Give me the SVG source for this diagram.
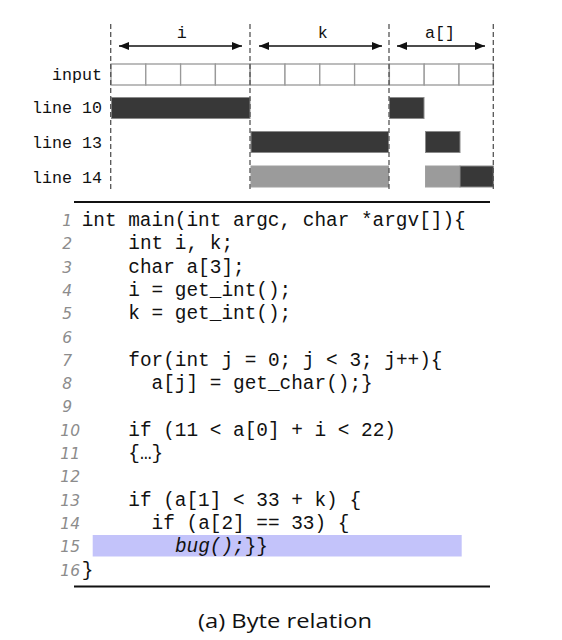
<svg xmlns="http://www.w3.org/2000/svg" width="562" height="640" viewBox="0 0 562 640">
<style>
.hdr{font-family:"Liberation Mono",monospace;font-size:16.7px;fill:#111}
.code{font-family:"Liberation Mono",monospace;font-size:19.4px;fill:#111}
.num{font-family:"DejaVu Sans","Liberation Sans",sans-serif;font-style:italic;font-size:15.5px;fill:#8c8c8c;text-anchor:end}
.dash{stroke:#555;stroke-width:1.3;stroke-dasharray:5,3}
.cell{fill:#fff;stroke:#999;stroke-width:1.3}
.dark{fill:#383838;stroke:#8a8a8a;stroke-width:1}
.light{fill:#9b9b9b;stroke:#a0a0a0;stroke-width:1}
.arr{stroke:#111;stroke-width:1.4;marker-start:url(#ah);marker-end:url(#ah)}
.rule{stroke:#111;stroke-width:2}
</style>
<defs>
<marker id="ah" viewBox="0 0 10 8" refX="10" refY="4" markerWidth="10" markerHeight="8" markerUnits="userSpaceOnUse" orient="auto-start-reverse">
<path d="M0,0 L10,4 L0,8 z" fill="#111"/>
</marker>
</defs>
<g id="header">
<text class="hdr" x="181.7" y="38" text-anchor="middle">i</text>
<text class="hdr" x="322.7" y="38" text-anchor="middle">k</text>
<text class="hdr" x="440" y="38" text-anchor="middle">a[]</text>
<text class="hdr" x="102" y="80" text-anchor="end">input</text>
<text class="hdr" x="102" y="113" text-anchor="end">line 10</text>
<text class="hdr" x="102" y="148" text-anchor="end">line 13</text>
<text class="hdr" x="102" y="183" text-anchor="end">line 14</text>
</g>
<g id="input">
<rect class="cell" x="111" y="64" width="34.8" height="21"/>
<rect class="cell" x="145.8" y="64" width="34.8" height="21"/>
<rect class="cell" x="180.6" y="64" width="34.8" height="21"/>
<rect class="cell" x="215.4" y="64" width="34.8" height="21"/>
<rect class="cell" x="250.2" y="64" width="34.8" height="21"/>
<rect class="cell" x="285" y="64" width="34.8" height="21"/>
<rect class="cell" x="319.8" y="64" width="34.8" height="21"/>
<rect class="cell" x="354.6" y="64" width="34.8" height="21"/>
<rect class="cell" x="389.4" y="64" width="34.8" height="21"/>
<rect class="cell" x="424.2" y="64" width="34.8" height="21"/>
<rect class="cell" x="459" y="64" width="34.4" height="21"/>
</g>
<g id="bars">
<rect class="dark" x="111.5" y="97.5" width="138.5" height="21"/>
<rect class="dark" x="389.5" y="97.5" width="34.5" height="21"/>
<rect class="dark" x="251" y="131.5" width="137.5" height="21"/>
<rect class="dark" x="425.5" y="131.5" width="34.5" height="21"/>
<rect class="light" x="251" y="166" width="137.5" height="21"/>
<rect class="light" x="425.5" y="166" width="34.5" height="21"/>
<rect class="dark" x="460" y="166" width="33.4" height="21"/>
</g>
<g id="connectors">
<line class="dash" x1="110.7" y1="24" x2="110.7" y2="189"/>
<line class="dash" x1="250" y1="24" x2="250" y2="189"/>
<line class="dash" x1="389" y1="24" x2="389" y2="189"/>
<line class="dash" x1="493.3" y1="24" x2="493.3" y2="189"/>
<line class="arr" x1="119" y1="46" x2="242" y2="46"/>
<line class="arr" x1="259" y1="46" x2="382" y2="46"/>
<line class="arr" x1="397" y1="46" x2="485" y2="46"/>
</g>
<g id="listing">
<line class="rule" x1="74" y1="202" x2="490" y2="202"/>
<rect x="92.7" y="535" width="369" height="21.5" fill="#c3c3fa"/>
<text class="num" x="72" y="226">1</text>
<text class="num" x="72" y="249.3">2</text>
<text class="num" x="72" y="272.6">3</text>
<text class="num" x="72" y="295.9">4</text>
<text class="num" x="72" y="319.2">5</text>
<text class="num" x="72" y="342.5">6</text>
<text class="num" x="72" y="365.8">7</text>
<text class="num" x="72" y="389.1">8</text>
<text class="num" x="72" y="412.4">9</text>
<text class="num" x="80" y="435.7">10</text>
<text class="num" x="80" y="459">11</text>
<text class="num" x="80" y="482.3">12</text>
<text class="num" x="80" y="505.6">13</text>
<text class="num" x="80" y="528.9">14</text>
<text class="num" x="80" y="552.2">15</text>
<text class="num" x="80" y="575.5">16</text>
<text class="code" x="81.7" y="226">int main(int argc, char *argv[]){</text>
<text class="code" x="128.3" y="249.3">int i, k;</text>
<text class="code" x="128.3" y="272.6">char a[3];</text>
<text class="code" x="128.3" y="295.9">i = get_int();</text>
<text class="code" x="128.3" y="319.2">k = get_int();</text>
<text class="code" x="128.3" y="365.8">for(int j = 0; j &lt; 3; j++){</text>
<text class="code" x="151.6" y="389.1">a[j] = get_char();}</text>
<text class="code" x="128.3" y="435.7">if (11 &lt; a[0] + i &lt; 22)</text>
<text class="code" x="128.3" y="459">{…}</text>
<text class="code" x="128.3" y="505.6">if (a[1] &lt; 33 + k) {</text>
<text class="code" x="151.6" y="528.9">if (a[2] == 33) {</text>
<text class="code" x="174.9" y="552.2"><tspan font-style="italic">bug();</tspan>}}</text>
<text class="code" x="81.7" y="575.5">}</text>
<line class="rule" x1="74" y1="586.5" x2="490" y2="586.5"/>
</g>
<g id="caption">
<text x="285" y="628" text-anchor="middle" font-family="'Open Sans', Lato, sans-serif" font-size="20" textLength="174" lengthAdjust="spacingAndGlyphs" fill="#111">(a) Byte relation</text>
</g>
</svg>
